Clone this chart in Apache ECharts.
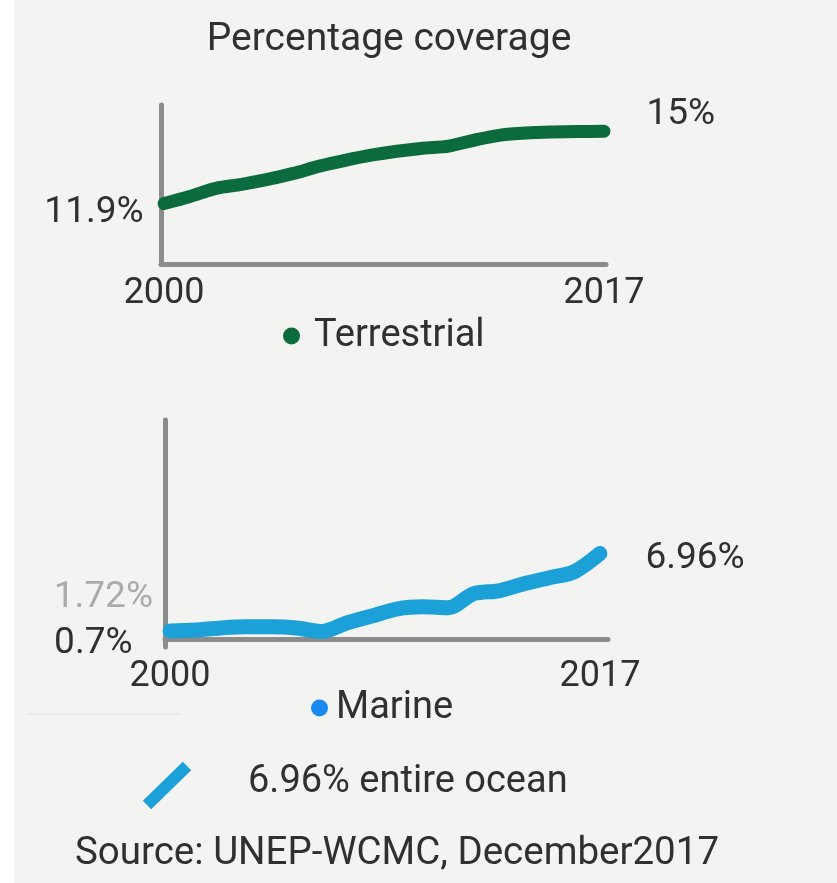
<!DOCTYPE html>
<html>
<head>
<meta charset="utf-8">
<script src="https://cdn.jsdelivr.net/npm/echarts@6/dist/echarts.min.js"></script>
<style>
  html, body { margin: 0; padding: 0; background: #f3f3f1; }
  #chart { width: 837px; height: 883px; }
</style>
</head>
<body>
<div id="chart"></div>
<script>
// ---- data ----
const years = [2000, 2001, 2002, 2003, 2004, 2005, 2006, 2007, 2008, 2009, 2010, 2011, 2012, 2013, 2014, 2015, 2016, 2017];
const terrestrial = [11.9, 12.2, 12.55, 12.72, 12.93, 13.19, 13.5, 13.75, 13.97, 14.14, 14.27, 14.36, 14.62, 14.83, 14.92, 14.96, 14.98, 15.0];
const marine = [0.7, 0.78, 0.94, 1.03, 1.03, 0.94, 0.65, 1.35, 1.92, 2.49, 2.65, 2.57, 3.71, 3.95, 4.52, 5.0, 5.5, 6.96];
const xTickLabels = [2000, 2017];
const terrestrialLabels = ['11.9%', '15%'];
const marineLabels = ['0.7%', '6.96%'];
const marineNote = '1.72%';
const titleText = 'Percentage coverage';
const oceanNote = '6.96% entire ocean';
const sourceText = 'Source: UNEP-WCMC, December2017';

const FONT = 'Roboto';
const TXT = '#303030';
const GREEN = '#0b6b3c';
const BLUE = '#1ba0d8';
const BLUE_DOT = '#1a8af0';
const AXIS = '#8c8c8c';

function buildData(vals, labels, firstLabel, lastLabel) {
  return vals.map((v, i) => {
    const item = { value: [years[i], v] };
    if (i === 0) item.label = Object.assign({ show: true, formatter: labels[0] }, firstLabel);
    if (i === vals.length - 1) item.label = Object.assign({ show: true, formatter: labels[1] }, lastLabel);
    return item;
  });
}

const labelText = { fontFamily: FONT, fontSize: 37, color: TXT };

const chart = echarts.init(document.getElementById('chart'), null, { renderer: 'canvas' });

const xAxisCommon = {
  type: 'value',
  axisLine: { show: true, lineStyle: { color: AXIS, width: 5 } },
  axisTick: { show: false },
  splitLine: { show: false },
  axisLabel: {
    customValues: xTickLabels,
    fontFamily: FONT, fontSize: 36, color: TXT, margin: 12,
    formatter: v => String(v)
  }
};
const yAxisCommon = {
  type: 'value',
  axisLine: { show: true, lineStyle: { color: AXIS, width: 5 } },
  axisTick: { show: false },
  splitLine: { show: false },
  axisLabel: { show: false }
};

const option = {
  backgroundColor: '#f3f3f1',
  animation: false,
  grid: [
    { left: 161, top: 105, width: 445, height: 159 },
    { left: 165, top: 420, width: 443, height: 227 }
  ],
  xAxis: [
    Object.assign({}, xAxisCommon, { gridIndex: 0, min: 1999.88, max: 2017.08 }),
    Object.assign({}, xAxisCommon, { gridIndex: 1, min: 1999.80, max: 2017.32 })
  ],
  yAxis: [
    Object.assign({}, yAxisCommon, { gridIndex: 0, min: 9.31, max: 16.12 }),
    Object.assign({}, yAxisCommon, { gridIndex: 1, min: -0.6, max: 17.77 })
  ],
  legend: [
    {
      data: [{ name: 'Terrestrial', itemStyle: { color: GREEN, borderWidth: 0 } }],
      left: 278, top: 312, icon: 'circle', itemWidth: 17, itemHeight: 17,
      textStyle: { fontFamily: FONT, fontSize: 38, color: TXT, padding: [0, 0, 0, 9] }
    },
    {
      data: [{ name: 'Marine', itemStyle: { color: BLUE_DOT, borderWidth: 0 } }],
      left: 306, top: 684, icon: 'circle', itemWidth: 17, itemHeight: 17,
      textStyle: { fontFamily: FONT, fontSize: 38, color: TXT, padding: [0, 0, 0, 3] }
    }
  ],
  series: [
    {
      name: 'Terrestrial', type: 'line', xAxisIndex: 0, yAxisIndex: 0,
      smooth: 0.3, symbol: 'circle', symbolSize: 1, showSymbol: true,
      itemStyle: { color: GREEN },
      lineStyle: { color: GREEN, width: 13, cap: 'round', join: 'round' },
      data: buildData(terrestrial, terrestrialLabels,
        Object.assign({ position: 'left', distance: 20, offset: [0, 9] }, labelText),
        Object.assign({ position: 'right', distance: 42, offset: [0, -16] }, labelText))
    },
    {
      name: 'Marine', type: 'line', xAxisIndex: 1, yAxisIndex: 1,
      smooth: 0.3, symbol: 'circle', symbolSize: 1, showSymbol: true,
      itemStyle: { color: BLUE },
      lineStyle: { color: BLUE, width: 15, cap: 'round', join: 'round' },
      data: buildData(marine, marineLabels,
        Object.assign({ position: 'left', distance: 37, offset: [0, 13] }, labelText),
        Object.assign({ position: 'right', distance: 45, offset: [0, 5] }, labelText))
    }
  ],
  graphic: [
    { type: 'rect', shape: { x: 0, y: 0, width: 14, height: 883 }, style: { fill: '#ffffff' }, silent: true, z: -1 },
    { type: 'line', shape: { x1: 27, y1: 714, x2: 180, y2: 714 }, style: { stroke: '#e2e2e2', lineWidth: 1 }, silent: true },
    { type: 'text', x: 389, y: 40, style: { text: titleText, fontFamily: FONT, fontSize: 39, fill: TXT, textAlign: 'center', textVerticalAlign: 'middle' } },
    { type: 'text', x: 153, y: 598, style: { text: marineNote, fontFamily: FONT, fontSize: 37, fill: '#ababab', textAlign: 'right', textVerticalAlign: 'middle' } },
    { type: 'line', shape: { x1: 147, y1: 805, x2: 187, y2: 766 }, style: { stroke: BLUE, lineWidth: 12, lineCap: 'butt' }, silent: true },
    { type: 'text', x: 248, y: 782, style: { text: oceanNote, fontFamily: FONT, fontSize: 38, fill: TXT, textAlign: 'left', textVerticalAlign: 'middle' } },
    { type: 'text', x: 397, y: 854, style: { text: sourceText, fontFamily: FONT, fontSize: 38.5, fill: TXT, textAlign: 'center', textVerticalAlign: 'middle' } }
  ]
};
chart.setOption(option);
</script>
</body>
</html>
